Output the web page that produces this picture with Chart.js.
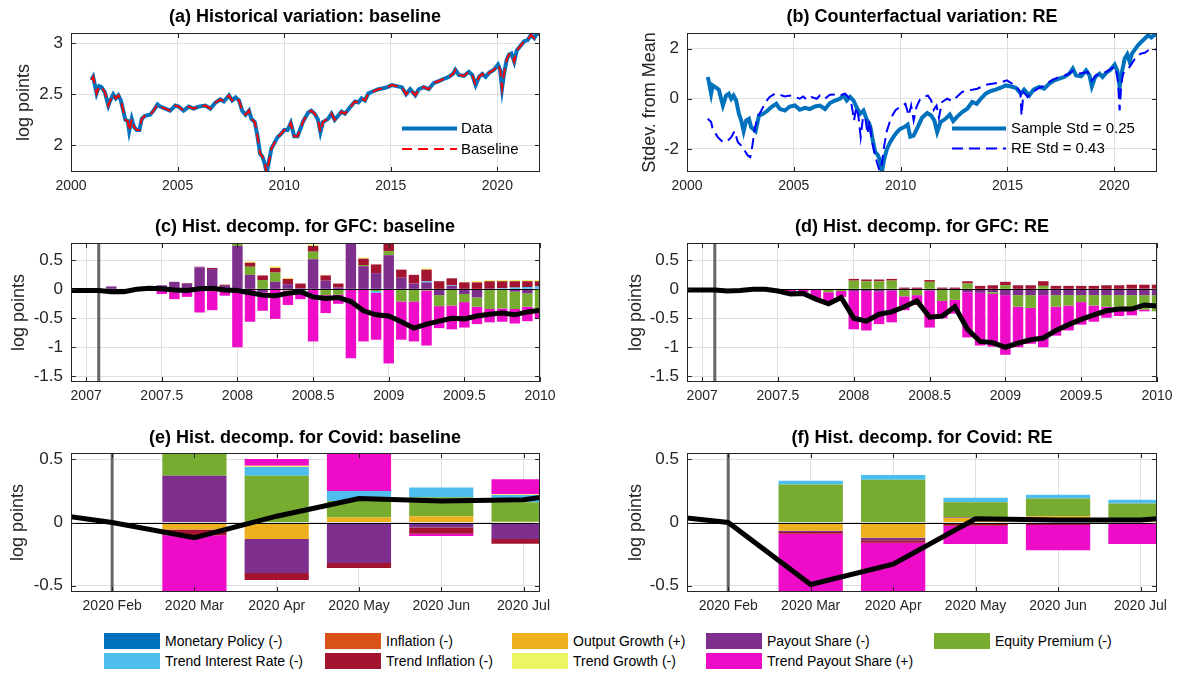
<!DOCTYPE html>
<html>
<head>
<meta charset="utf-8">
<script src="https://cdn.jsdelivr.net/npm/chart.js@4.4.0/dist/chart.umd.min.js"></script>
<style>
  body { margin: 0; background: #fff; width: 1177px; height: 673px; position: relative; overflow: hidden;
         font-family: "Liberation Sans", Arial, sans-serif; }
  canvas { position: absolute; }
  .ttl { position: absolute; font-weight: bold; font-size: 18px; color: #000; white-space: nowrap;
         transform: translate(-50%, -50%); z-index: 2; }
  .lg { position: absolute; font-size: 15px; line-height: 18px; color: #000; white-space: nowrap; z-index: 2; }
  .key { position: absolute; font-size: 14px; line-height: 16px; color: #000; white-space: nowrap; }
  .key span { position: absolute; left: 0; top: 0; width: 56px; height: 16px; }
  .key b { position: absolute; left: 61px; top: 0; font-weight: normal; }
  svg { position: absolute; z-index: 2; }
</style>
</head>
<body>
<canvas id="pa"></canvas><canvas id="pb"></canvas>
<canvas id="pc"></canvas><canvas id="pd"></canvas>
<canvas id="pe"></canvas><canvas id="pf"></canvas>

<div class="ttl" style="left:305px;top:16px">(a) Historical variation: baseline</div>
<div class="ttl" style="left:922px;top:16px">(b) Counterfactual variation: RE</div>
<div class="ttl" style="left:305px;top:226px">(c) Hist. decomp. for GFC: baseline</div>
<div class="ttl" style="left:922px;top:226px">(d) Hist. decomp. for GFC: RE</div>
<div class="ttl" style="left:305px;top:437px">(e) Hist. decomp. for Covid: baseline</div>
<div class="ttl" style="left:922px;top:437px">(f) Hist. decomp. for Covid: RE</div>

<svg style="left:400px;top:118px" width="62" height="42">
  <line x1="2" y1="10.5" x2="57" y2="10.5" stroke="#0072BD" stroke-width="4"/>
  <line x1="2" y1="31" x2="57" y2="31" stroke="#FF0000" stroke-width="2" stroke-dasharray="10,6"/>
</svg>
<div class="lg" style="left:461px;top:119px">Data</div>
<div class="lg" style="left:461px;top:140px">Baseline</div>

<svg style="left:950px;top:118px" width="60" height="42">
  <line x1="2" y1="10.5" x2="56" y2="10.5" stroke="#0072BD" stroke-width="4"/>
  <line x1="2" y1="30.5" x2="56" y2="30.5" stroke="#0000FF" stroke-width="2" stroke-dasharray="11,6"/>
</svg>
<div class="lg" style="left:1011px;top:119px">Sample Std = 0.25</div>
<div class="lg" style="left:1011px;top:139px">RE Std = 0.43</div>

<div id="keys"></div>

<script>
// ---------- (a) historical variation: data vs baseline ----------
const histYears = [
  2000.96, 2001.04, 2001.2, 2001.32, 2001.43, 2001.59, 2001.75, 2001.82,
  2001.98, 2002.1, 2002.22, 2002.34, 2002.45, 2002.55, 2002.66, 2002.73,
  2002.85, 2002.96, 2003.08, 2003.21, 2003.32, 2003.47, 2003.71, 2003.87,
  2004.06, 2004.18, 2004.42, 2004.65, 2004.89, 2005.05, 2005.28, 2005.52,
  2005.75, 2005.99, 2006.3, 2006.54, 2006.78, 2007.01, 2007.17, 2007.41,
  2007.56, 2007.72, 2007.88, 2008.03, 2008.19, 2008.35, 2008.46, 2008.62,
  2008.74, 2008.87, 2008.98, 2009.09, 2009.18, 2009.29, 2009.4, 2009.53,
  2009.69, 2009.84, 2010.0, 2010.16, 2010.31, 2010.47, 2010.63, 2010.79,
  2010.9, 2011.12, 2011.27, 2011.43, 2011.59, 2011.7, 2011.82, 2012.06,
  2012.22, 2012.37, 2012.53, 2012.69, 2012.85, 2013.08, 2013.32, 2013.48,
  2013.63, 2013.79, 2013.95, 2014.18, 2014.42, 2014.65, 2014.84, 2015.05,
  2015.28, 2015.52, 2015.72, 2015.91, 2016.15, 2016.31, 2016.54, 2016.78,
  2017.01, 2017.25, 2017.48, 2017.72, 2017.92, 2018.03, 2018.19, 2018.43,
  2018.66, 2018.82, 2018.98, 2019.14, 2019.29, 2019.45, 2019.61, 2019.84,
  2020.03, 2020.13, 2020.22, 2020.31, 2020.44, 2020.55, 2020.66, 2020.79,
  2020.91, 2021.07, 2021.26, 2021.42, 2021.57, 2021.73, 2021.86, 2022.0
];
const histData = [
  2.64, 2.67, 2.51, 2.58, 2.57, 2.52, 2.39, 2.43,
  2.50, 2.46, 2.49, 2.44, 2.34, 2.25, 2.24, 2.14,
  2.26, 2.18, 2.15, 2.15, 2.26, 2.29, 2.30, 2.34,
  2.40, 2.38, 2.36, 2.34, 2.39, 2.38, 2.34, 2.38,
  2.36, 2.38, 2.39, 2.36, 2.42, 2.45, 2.43, 2.49,
  2.44, 2.47, 2.44, 2.34, 2.30, 2.34, 2.26, 2.23,
  2.10, 1.92, 1.89, 1.82, 1.73, 1.85, 1.97, 2.02,
  2.08, 2.11, 2.15, 2.15, 2.22, 2.09, 2.09, 2.18,
  2.24, 2.32, 2.34, 2.31, 2.25, 2.13, 2.23, 2.26,
  2.31, 2.25, 2.29, 2.33, 2.31, 2.37, 2.43, 2.42,
  2.46, 2.44, 2.51, 2.53, 2.55, 2.56, 2.57, 2.59,
  2.58, 2.57, 2.50, 2.55, 2.49, 2.55, 2.57, 2.55,
  2.61, 2.63, 2.65, 2.67, 2.70, 2.74, 2.69, 2.68,
  2.72, 2.69, 2.59, 2.67, 2.70, 2.67, 2.71, 2.74,
  2.79, 2.74, 2.56, 2.70, 2.84, 2.89, 2.90, 2.82,
  2.93, 2.97, 3.02, 3.03, 3.08, 3.05, 3.10, 3.09
];
// the baseline fit sits right on top of the data
const histBaseline = histData;

// ---------- (b) counterfactual, in std devs from mean ----------
const sampleYears = [
  2000.97, 2001.01, 2001.13, 2001.2, 2001.36, 2001.49, 2001.68, 2001.83, 2001.96, 2002.07,
  2002.18, 2002.3, 2002.43, 2002.54, 2002.65, 2002.77, 2002.9, 2003.0, 2003.21, 2003.37,
  2003.56, 2003.75, 2003.95, 2004.18, 2004.34, 2004.58, 2004.81, 2005.05, 2005.28, 2005.52,
  2005.75, 2005.99, 2006.22, 2006.46, 2006.69, 2006.93, 2007.16, 2007.32, 2007.48, 2007.63,
  2007.79, 2007.95, 2008.1, 2008.26, 2008.42, 2008.57, 2008.7, 2008.81, 2008.92, 2009.01,
  2009.12, 2009.23, 2009.36, 2009.51, 2009.67, 2009.83, 2009.98, 2010.17, 2010.33, 2010.45,
  2010.61, 2010.8, 2011.0, 2011.24, 2011.43, 2011.58, 2011.71, 2011.87, 2012.1, 2012.3,
  2012.46, 2012.65, 2012.88, 2013.12, 2013.35, 2013.56, 2013.75, 2013.98, 2014.22, 2014.45,
  2014.69, 2014.92, 2015.16, 2015.39, 2015.63, 2015.78, 2016.02, 2016.22, 2016.49, 2016.72,
  2016.96, 2017.19, 2017.43, 2017.66, 2017.9, 2018.06, 2018.21, 2018.45, 2018.68, 2018.84,
  2018.95, 2019.11, 2019.31, 2019.45, 2019.62, 2019.83, 2020.02, 2020.14, 2020.25, 2020.36,
  2020.49, 2020.61, 2020.72, 2020.83, 2020.96, 2021.11, 2021.27, 2021.43, 2021.59, 2021.74,
  2021.9, 2022.0
];
const sampleStd = [
  0.87, 0.73, 0.2, 0.53, 0.44, 0.36, -0.27, 0.13, 0.2, 0,
  0.13, -0.07, -0.6, -0.87, -1.29, -0.87, -0.8, -1.13, -1.29, -0.67,
  -0.6, -0.49, -0.33, -0.2, -0.4, -0.47, -0.31, -0.27, -0.44, -0.36,
  -0.41, -0.31, -0.27, -0.41, -0.17, -0.07, 0, 0.13, -0.07, 0.07,
  -0.07, -0.36, -0.6, -0.47, -0.84, -1.07, -1.67, -2.13, -2.23, -2.4,
  -2.93, -2.4, -2.0, -1.73, -1.51, -1.33, -1.2, -1.13, -1.03, -1.51,
  -1.47, -1.13, -0.76, -0.57, -0.67, -0.87, -1.33, -0.93, -0.8, -0.63,
  -0.89, -0.71, -0.53, -0.4, -0.13, -0.2, 0, 0.2, 0.31, 0.36,
  0.44, 0.53, 0.49, 0.44, 0.2, 0.36, 0.13, 0.36, 0.47, 0.4,
  0.6, 0.73, 0.8, 0.87, 1.0, 1.2, 0.93, 0.89, 1.13, 0.93,
  0.49, 0.87, 1.0, 0.87, 1.03, 1.16, 1.36, 1.13, 0.47, 1.07,
  1.6, 1.77, 1.47, 1.8, 1.96, 2.13, 2.27, 2.4, 2.53, 2.44,
  2.57, 2.53
];
const reYears = [
  2000.97, 2001.13, 2001.2, 2001.44, 2001.68, 2001.91, 2002.07, 2002.23, 2002.38, 2002.54,
  2002.7, 2002.85, 2002.96, 2003.06, 2003.17, 2003.32, 2003.48, 2003.68, 2003.87, 2004.11,
  2004.34, 2004.58, 2004.81, 2005.05, 2005.28, 2005.44, 2005.6, 2005.83, 2006.07, 2006.22,
  2006.46, 2006.69, 2006.93, 2007.16, 2007.4, 2007.55, 2007.71, 2007.82, 2007.92, 2008.03,
  2008.13, 2008.23, 2008.34, 2008.45, 2008.54, 2008.65, 2008.76, 2008.89, 2009.01, 2009.12,
  2009.23, 2009.36, 2009.55, 2009.75, 2009.98, 2010.22, 2010.38, 2010.49, 2010.61, 2010.74,
  2010.9, 2011.08, 2011.27, 2011.43, 2011.55, 2011.68, 2011.79, 2011.94, 2012.18, 2012.41,
  2012.65, 2012.88, 2013.12, 2013.35, 2013.59, 2013.82, 2014.06, 2014.29, 2014.53, 2014.76,
  2014.97, 2015.16, 2015.39, 2015.6, 2015.66, 2015.75, 2015.94, 2016.18, 2016.41, 2016.65,
  2016.88, 2017.12, 2017.35, 2017.59, 2017.82, 2018.06, 2018.29, 2018.53, 2018.76, 2018.95,
  2019.15, 2019.39, 2019.62, 2019.86, 2020.05, 2020.17, 2020.25, 2020.33, 2020.41, 2020.56,
  2020.72, 2020.87, 2021.03, 2021.24, 2021.43, 2021.59, 2021.74, 2022.0
];
const reStd = [
  -0.8, -0.93, -1.2, -1.53, -1.73, -1.67, -1.53, -1.29, -1.73, -1.87,
  -2.07, -2.27, -2.33, -1.87, -1.2, -0.71, -0.47, -0.13, 0.07, 0.2,
  0.16, 0.09, 0.13, 0.07, 0, 0.09, -0.04, 0.07, 0, 0.13,
  0, 0.16, 0.17, 0.13, 0.2, 0.07, -0.27, -0.87, -0.33, -0.73,
  -1.53, -0.8, -0.71, -1.4, -0.87, -1.67, -2.07, -2.53, -2.87, -2.6,
  -1.87, -1.27, -0.76, -0.47, -0.31, -0.2, -0.67, -0.27, -0.87, -0.33,
  -0.04, 0.07, 0.13, -0.07, -0.44, -0.27, -0.76, -0.13, 0, -0.09,
  0.09, 0.27, 0.33, 0.36, 0.4, 0.49, 0.57, 0.6, 0.63, 0.67,
  0.73, 0.63, 0.53, 0.27, -0.67, 0.27, 0.07, 0.27, 0.4, 0.49,
  0.63, 0.76, 0.84, 0.89, 0.97, 1.11, 1.0, 1.03, 1.07, 0.73,
  0.93, 1.03, 1.07, 1.2, 1.29, 0.73, -0.47, 0.6, 1.0, 1.13,
  1.27, 1.47, 1.67, 1.8, 1.83, 1.93, 1.96, 1.96
];

// ---------- shocks ----------
const shockNames = ['Monetary Policy (-)', 'Inflation (-)', 'Output Growth (+)', 'Payout Share (-)', 'Equity Premium (-)',
                    'Trend Interest Rate (-)', 'Trend Inflation (-)', 'Trend Growth (-)', 'Trend Payout Share (+)'];
const shockColors = ['#0072BD', '#D95319', '#EDB120', '#7E2F8E', '#77AC30',
                     '#4DBEEE', '#A2142F', '#EEF562', '#EE0CC9'];

// ---------- GFC decompositions: monthly bars Jan 2007 .. Jan 2010 ----------
const gfcBarStart = 2007;          // Jan 2007
const gfcLineStart = 2006 + 10/12; // Nov 2006
const gfcShock = 2007 + 1/12;      // Feb 2007

const gfcBasePayout = [0, 0, 0.05, 0.01, 0, 0, 0.07, 0.13, 0.1, 0.38, 0.35, 0.06,
  0.75, 0.25, -0.05, 0.13, 0.09, 0.02, 0.52, 0.15, 0.03, 0.85, 0.4, 0.28,
  0.59, 0.2, 0.1, 0.12, -0.1, 0.06, -0.08, -0.14, -0.01, -0.01, -0.04, -0.07, 0];
const gfcBaseEquity = [0, 0, 0, 0, 0, 0, 0, 0, 0, 0, -0.03, -0.02,
  0.23, 0.14, 0.16, 0.16, -0.02, -0.05, 0.13, -0.1, -0.09, 0.1, 0.02, -0.03,
  0.07, -0.21, -0.21, -0.02, -0.19, -0.28, -0.14, -0.16, -0.33, -0.32, -0.3, -0.23, -0.35];
const gfcBaseTrendRate = [0, 0, 0, 0, 0, 0, 0, 0, 0, 0, 0, 0,
  0, 0, 0, 0, 0, 0, 0, 0, 0, 0, 0, -0.03,
  0, 0, 0, 0.02, 0, 0.01, 0, 0, 0.01, 0.02, 0.03, 0.04, 0.05];
const gfcBaseTrendInfl = [0, 0, 0, 0, 0, 0, 0, 0, 0.01, 0.01, 0.02, 0.02,
  0, 0.07, 0.08, 0.08, 0.09, 0.08, 0.1, 0.09, 0.07, 0, 0.11, 0.15,
  0.16, 0.14, 0.15, 0.2, 0.14, 0.12, 0.12, 0.12, 0.13, 0.12, 0.11, 0.1, 0.09];
const gfcBaseTrendGrowth = [0, 0, 0, 0, 0, 0, 0, 0, 0, 0, 0, 0,
  0, 0.02, 0, 0.03, 0.02, 0, 0.02, 0.01, 0, 0, 0.02, 0,
  0, 0, 0, 0.02, 0, 0, 0.01, 0.02, 0.02, 0.02, 0.02, 0.02, 0.02];
const gfcBaseTrendPayout = [0, 0, -0.06, -0.01, 0, 0, -0.08, -0.17, -0.13, -0.4, -0.33, -0.09,
  -1.0, -0.56, -0.32, -0.51, -0.25, -0.12, -0.9, -0.31, -0.16, -1.19, -0.9, -0.81,
  -1.28, -0.66, -0.69, -0.95, -0.38, -0.41, -0.44, -0.3, -0.23, -0.23, -0.25, -0.25, -0.15];
const gfcBaseLine = [-0.02, -0.02,
  -0.02, -0.02, -0.04, -0.04, 0, 0.02, 0.01, -0.01, -0.02, 0.01, 0.02, -0.01,
  -0.02, -0.06, -0.1, -0.11, -0.07, -0.04, -0.13, -0.16, -0.14, -0.21, -0.37, -0.44,
  -0.46, -0.56, -0.67, -0.6, -0.55, -0.5, -0.51, -0.46, -0.43, -0.41, -0.44, -0.39,
  -0.36];

const gfcREPayout = [0, 0, 0, 0, 0, 0, 0, 0, 0, 0, 0, 0,
  -0.03, -0.03, -0.04, -0.02, 0, 0, -0.02, 0, 0, -0.05, -0.06, -0.05,
  -0.1, -0.1, -0.1, -0.1, -0.1, -0.1, -0.1, -0.1, -0.1, -0.1, -0.1, -0.1, -0.1];
const gfcREEquity = [0, 0, 0, 0, 0, 0, 0, -0.01, 0, 0, -0.05, -0.03,
  0.15, 0.14, 0.14, 0.15, -0.12, -0.1, 0.13, -0.2, -0.18, 0.1, 0, -0.03,
  0.07, -0.2, -0.22, 0.06, -0.2, -0.18, -0.12, -0.18, -0.2, -0.2, -0.22, -0.25, -0.28];
const gfcRETrendRate = [0, 0, 0, 0, 0, 0, 0, 0, 0, 0, 0, 0,
  0, 0, 0, 0, 0, 0, 0, 0, 0, 0, 0, 0,
  0, 0, 0, 0, 0, 0, 0, 0, 0, 0, 0.01, 0.01, 0.01];
const gfcRETrendInfl = [0, 0, 0, 0, 0, 0, 0.01, 0, 0.01, 0, 0, 0.01,
  0.03, 0.03, 0.03, 0.03, 0.03, 0.03, 0.03, 0.03, 0.03, 0.04, 0.06, 0.07,
  0.06, 0.07, 0.07, 0.08, 0.06, 0.06, 0.06, 0.06, 0.07, 0.07, 0.07, 0.07, 0.07];
const gfcRETrendPayout = [0, 0, 0, 0, 0, 0, -0.01, -0.03, -0.05, -0.17, -0.2, -0.1,
  -0.66, -0.68, -0.56, -0.55, -0.24, -0.17, -0.64, -0.3, -0.24, -0.78, -0.91, -0.91,
  -1.03, -0.7, -0.62, -0.9, -0.5, -0.43, -0.39, -0.28, -0.19, -0.16, -0.13, -0.03, 0];
const gfcRELine = [-0.01, -0.01,
  -0.01, -0.01, -0.03, -0.02, 0, 0, -0.03, -0.08, -0.07, -0.17, -0.25, -0.14,
  -0.5, -0.55, -0.43, -0.39, -0.3, -0.2, -0.48, -0.46, -0.3, -0.69, -0.9, -0.92,
  -1.0, -0.93, -0.87, -0.84, -0.71, -0.61, -0.52, -0.44, -0.37, -0.34, -0.34, -0.27,
  -0.29];

// ---------- Covid decompositions: Feb .. Jul 2020 ----------
const monthLabels = ['2020 Jan', '2020 Feb', '2020 Mar', '2020 Apr', '2020 May', '2020 Jun', '2020 Jul', '2020 Aug'];
const covidBarMonths = [2, 3, 4, 5, 6, 7];
const covidLineMonths = [1, 2, 3, 4, 5, 6, 7, 8];
const covidShock = 2;

const covidBaseOutput = [0, -0.055, -0.13, 0.04, 0.05, 0.005];
const covidBasePayout = [0, 0.37, -0.27, -0.32, -0.04, -0.13];
const covidBaseEquity = [0, 0.33, 0.37, 0.13, 0.15, 0.155];
const covidBaseTrendRate = [0, 0, 0.07, 0.08, 0.077, 0.058];
const covidBaseTrendInfl = [0, -0.045, -0.055, -0.04, -0.05, -0.038];
const covidBaseTrendGrowth = [0, 0, 0.01, 0, 0, 0.005];
const covidBaseTrendPayout = [0, -0.72, 0.053, 0.31, -0.016, 0.12];
const covidBaseLine = [0.09, 0, -0.12, 0.05, 0.19, 0.17, 0.18, 0.27];

const covidREInflation = [0, -0.01, 0, -0.01, -0.01, 0];
const covidREOutput = [0, -0.055, -0.12, 0.035, 0.05, 0.01];
const covidREPayout = [0, -0.01, -0.02, 0.005, 0, 0];
const covidREEquity = [0, 0.3, 0.338, 0.12, 0.14, 0.14];
const covidRETrendRate = [0, 0.03, 0.037, 0.035, 0.03, 0.03];
const covidRETrendInfl = [0, -0.015, -0.02, -0.015, -0.01, -0.01];
const covidRETrendPayout = [0, -0.72, -0.545, -0.145, -0.2, -0.16];
const covidRELine = [0.07, 0, -0.49, -0.33, 0.03, 0.02, 0.02, 0.07];

// ---------- drawing ----------
Chart.defaults.font.family = '"Liberation Sans", Arial, sans-serif';
Chart.defaults.color = '#262626';
const AXIS = '#262626', GRID = '#e0e0e0';
const PAD_T = 20, PAD_R = 36, AX_H = 30;

// box around the axes, inward tick marks, shock-date marker and zero line
const framePlugin = {
  id: 'frame',
  beforeDatasetsDraw(chart, args, opts) {
    if (opts.shock === undefined) return;
    const {ctx, chartArea: a, scales: {x}} = chart;
    const px = x.getPixelForValue(opts.shock);
    ctx.save();
    ctx.strokeStyle = '#666666'; ctx.lineWidth = 3;
    ctx.beginPath(); ctx.moveTo(px, a.top); ctx.lineTo(px, a.bottom); ctx.stroke();
    ctx.restore();
  },
  afterDatasetsDraw(chart, args, opts) {
    if (!opts.zero) return;
    const {ctx, chartArea: a, scales: {y}} = chart;
    const py = Math.round(y.getPixelForValue(0)) + 0.5;
    ctx.save();
    ctx.strokeStyle = '#000'; ctx.lineWidth = 1;
    ctx.beginPath(); ctx.moveTo(a.left, py); ctx.lineTo(a.right, py); ctx.stroke();
    ctx.restore();
  },
  afterDraw(chart) {
    const {ctx, chartArea: a, scales: {x, y}} = chart;
    ctx.save();
    ctx.strokeStyle = AXIS; ctx.lineWidth = 1;
    ctx.strokeRect(a.left + 0.5, a.top + 0.5, a.width - 1, a.height - 1);
    ctx.beginPath();
    x.ticks.forEach(t => {
      const px = Math.round(x.getPixelForValue(t.value)) + 0.5;
      ctx.moveTo(px, a.bottom); ctx.lineTo(px, a.bottom - 5);
      ctx.moveTo(px, a.top); ctx.lineTo(px, a.top + 5);
    });
    y.ticks.forEach(t => {
      const py = Math.round(y.getPixelForValue(t.value)) + 0.5;
      ctx.moveTo(a.left, py); ctx.lineTo(a.left + 5, py);
      ctx.moveTo(a.right, py); ctx.lineTo(a.right - 5, py);
    });
    ctx.stroke();
    ctx.restore();
  }
};
Chart.register(framePlugin);

function pts(xs, ys) { return xs.map((x, i) => ({x: x, y: ys[i]})); }

function makePanel(id, g, type, datasets, xs, ys, marks) {
  const cv = document.getElementById(id);
  cv.width = g.axisW + g.w + PAD_R;
  cv.height = PAD_T + g.h + AX_H;
  cv.style.left = (g.x - g.axisW) + 'px';
  cv.style.top = (g.y - PAD_T) + 'px';
  return new Chart(cv, {
    type: type,
    data: {datasets: datasets},
    options: {
      responsive: false, animation: false, devicePixelRatio: 1,
      layout: {padding: {top: PAD_T, right: PAD_R, left: 0, bottom: 0}},
      plugins: {legend: {display: false}, tooltip: {enabled: false}, frame: marks || {}},
      scales: {
        x: {
          type: 'linear', min: xs.min, max: xs.max, offset: false, stacked: true,
          grid: {color: GRID, drawTicks: false, offset: false}, border: {display: false},
          ticks: {stepSize: xs.step, includeBounds: false, autoSkip: false, maxRotation: 0,
                  padding: 6, color: AXIS, font: {size: 14}, callback: xs.fmt || (v => String(v))},
          afterFit: s => { s.height = AX_H; }
        },
        y: {
          type: 'linear', min: ys.min, max: ys.max, stacked: !!ys.stacked,
          grid: {color: GRID, drawTicks: false}, border: {display: false},
          ticks: {stepSize: ys.step, includeBounds: false, autoSkip: false, padding: 8,
                  color: AXIS, font: {size: 17}, callback: v => String(v)},
          title: {display: true, text: ys.title, color: AXIS, font: {size: 18}},
          afterFit: s => { s.width = g.axisW; }
        }
      }
    }
  });
}

function lineSet(data, color, width, dash) {
  return {type: 'line', data: data, borderColor: color, borderWidth: width, borderDash: dash || [],
          pointRadius: 0, tension: 0, fill: false, clip: 0, stack: 'line'};
}
function barSet(k, xs, ys, pct) {
  return {type: 'bar', label: shockNames[k], data: pts(xs, ys), backgroundColor: shockColors[k],
          borderWidth: 0, barPercentage: 1, categoryPercentage: pct, stack: 'bars', clip: 0};
}

// panel (a)
makePanel('pa', {x: 71, y: 33, w: 469, h: 139, axisW: 62}, 'line', [
  lineSet(pts(histYears, histBaseline), '#FF0000', 2, [10, 6]),
  lineSet(pts(histYears, histData), '#0072BD', 4)
], {min: 2000, max: 2022, step: 5}, {min: 1.74, max: 3.1, step: 0.5, title: 'log points'});

// panel (b)
makePanel('pb', {x: 687, y: 33, w: 470, h: 139, axisW: 52}, 'line', [
  lineSet(pts(reYears, reStd), '#0000FF', 2, [11, 6]),
  lineSet(pts(sampleYears, sampleStd), '#0072BD', 4)
], {min: 2000, max: 2022, step: 5}, {min: -2.92, max: 2.62, step: 2, title: 'Stdev. from Mean'});

// GFC month positions
const gfcBarX = gfcBasePayout.map((_, i) => gfcBarStart + i / 12);
const gfcLineX = gfcBaseLine.map((_, i) => gfcLineStart + i / 12);

// panel (c)
makePanel('pc', {x: 71, y: 243, w: 469, h: 139, axisW: 67}, 'bar', [
  lineSet(pts(gfcLineX, gfcBaseLine), '#000', 5),
  barSet(3, gfcBarX, gfcBasePayout, 0.83),
  barSet(4, gfcBarX, gfcBaseEquity, 0.83),
  barSet(5, gfcBarX, gfcBaseTrendRate, 0.83),
  barSet(6, gfcBarX, gfcBaseTrendInfl, 0.83),
  barSet(7, gfcBarX, gfcBaseTrendGrowth, 0.83),
  barSet(8, gfcBarX, gfcBaseTrendPayout, 0.83)
], {min: 2006.9, max: 2010, step: 0.5}, {min: -1.6, max: 0.8, step: 0.5, title: 'log points', stacked: true},
   {shock: gfcShock, zero: true});

// panel (d)
makePanel('pd', {x: 687, y: 243, w: 470, h: 139, axisW: 66}, 'bar', [
  lineSet(pts(gfcLineX, gfcRELine), '#000', 5),
  barSet(3, gfcBarX, gfcREPayout, 0.83),
  barSet(4, gfcBarX, gfcREEquity, 0.83),
  barSet(5, gfcBarX, gfcRETrendRate, 0.83),
  barSet(6, gfcBarX, gfcRETrendInfl, 0.83),
  barSet(8, gfcBarX, gfcRETrendPayout, 0.83)
], {min: 2006.9, max: 2010, step: 0.5}, {min: -1.6, max: 0.8, step: 0.5, title: 'log points', stacked: true},
   {shock: gfcShock, zero: true});

const covidX = {min: 1.5, max: 7.2, step: 1, fmt: v => monthLabels[v - 1]};

// panel (e)
makePanel('pe', {x: 71, y: 453, w: 469, h: 139, axisW: 68}, 'bar', [
  lineSet(pts(covidLineMonths, covidBaseLine), '#000', 5),
  barSet(2, covidBarMonths, covidBaseOutput, 0.78),
  barSet(3, covidBarMonths, covidBasePayout, 0.78),
  barSet(4, covidBarMonths, covidBaseEquity, 0.78),
  barSet(5, covidBarMonths, covidBaseTrendRate, 0.78),
  barSet(6, covidBarMonths, covidBaseTrendInfl, 0.78),
  barSet(7, covidBarMonths, covidBaseTrendGrowth, 0.78),
  barSet(8, covidBarMonths, covidBaseTrendPayout, 0.78)
], covidX, {min: -0.55, max: 0.55, step: 0.5, title: 'log points', stacked: true},
   {shock: covidShock, zero: true});

// panel (f)
makePanel('pf', {x: 687, y: 453, w: 470, h: 139, axisW: 66}, 'bar', [
  lineSet(pts(covidLineMonths, covidRELine), '#000', 5),
  barSet(1, covidBarMonths, covidREInflation, 0.78),
  barSet(2, covidBarMonths, covidREOutput, 0.78),
  barSet(3, covidBarMonths, covidREPayout, 0.78),
  barSet(4, covidBarMonths, covidREEquity, 0.78),
  barSet(5, covidBarMonths, covidRETrendRate, 0.78),
  barSet(6, covidBarMonths, covidRETrendInfl, 0.78),
  barSet(8, covidBarMonths, covidRETrendPayout, 0.78)
], covidX, {min: -0.55, max: 0.55, step: 0.5, title: 'log points', stacked: true},
   {shock: covidShock, zero: true});

// shared legend, two rows
const keyX = [104, 325, 512, 706, 934];
const keys = document.getElementById('keys');
shockNames.forEach((name, k) => {
  const row = k < 5 ? 0 : 1, col = k < 5 ? k : k - 5;
  const el = document.createElement('div');
  el.className = 'key';
  el.style.left = keyX[col] + 'px';
  el.style.top = (633 + row * 20) + 'px';
  el.innerHTML = '<span style="background:' + shockColors[k] + '"></span><b>' + name + '</b>';
  keys.appendChild(el);
});
</script>
</body>
</html>
